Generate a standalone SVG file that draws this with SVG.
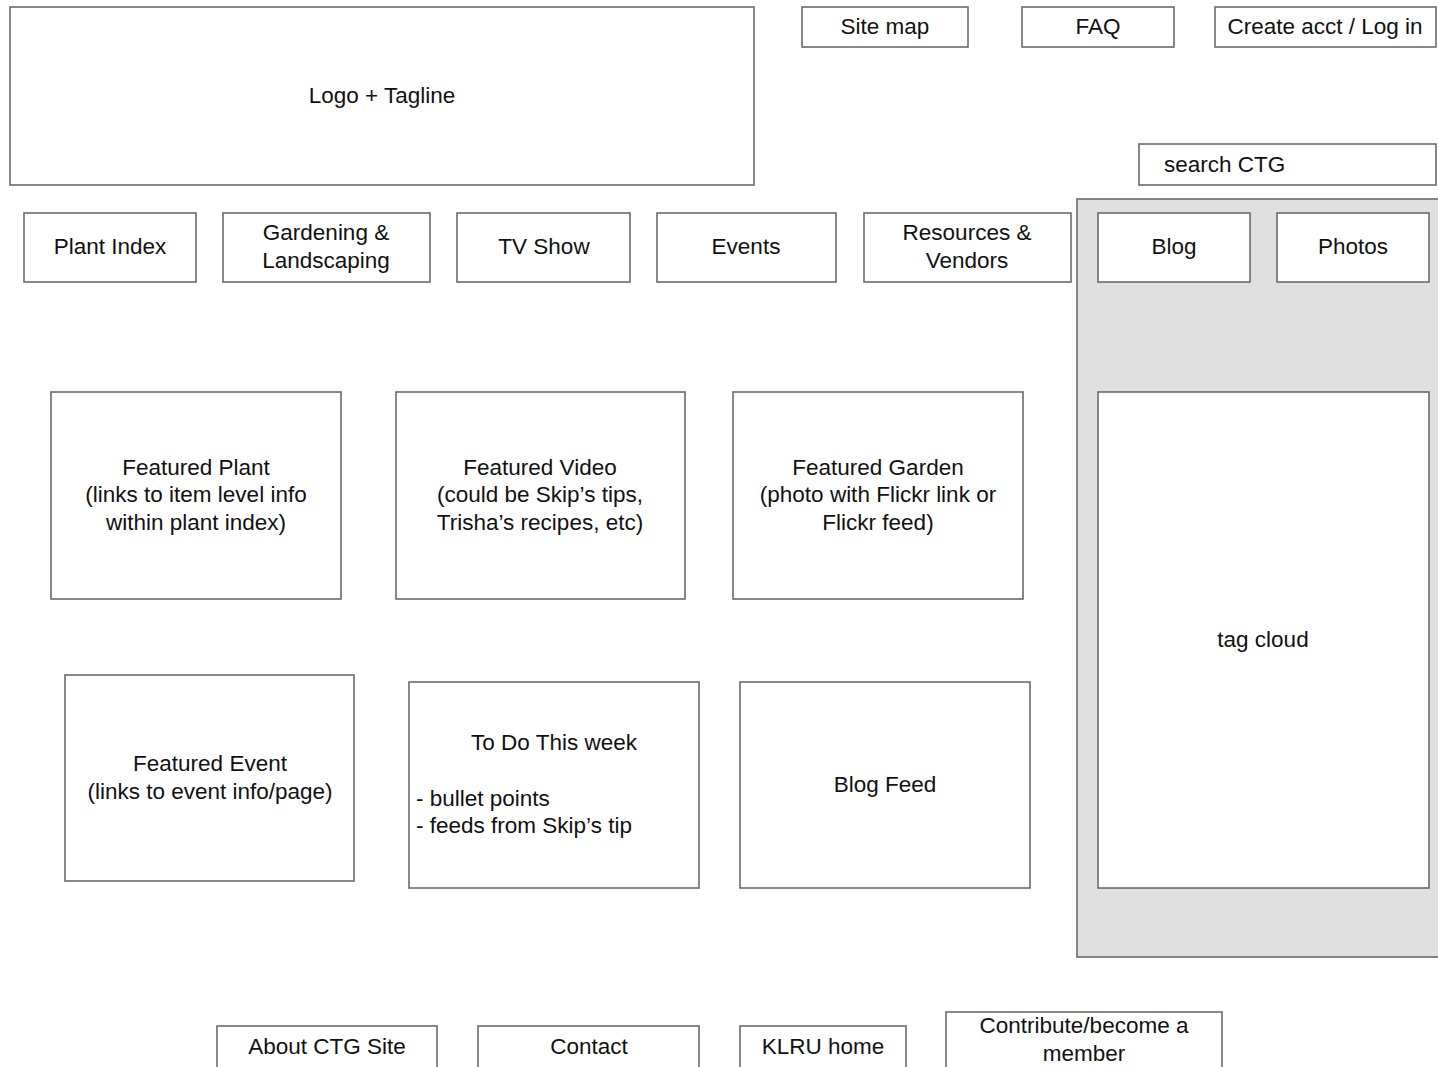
<svg xmlns="http://www.w3.org/2000/svg" width="1438" height="1067" viewBox="0 0 1438 1067">
<style>
rect.b{fill:#fff;stroke:#6b6b6b;stroke-width:1.6}
rect.panel{fill:#e0e0e0;stroke:#6b6b6b;stroke-width:1.6}
text{font-family:"Liberation Sans",Arial,sans-serif;font-size:22.5px;fill:#111;text-anchor:middle}
text.l{text-anchor:start}
</style>
<rect width="1438" height="1067" fill="#fff"/>
<g id="sidebar-panel"><rect class="panel" x="1077" y="199" width="365" height="758"/></g>
<g id="logo"><rect class="b" x="10" y="7" width="744" height="178"/><text x="382" y="103">Logo + Tagline</text></g>
<g id="sitemap"><rect class="b" x="802" y="7" width="166" height="40"/><text x="885" y="34">Site map</text></g>
<g id="faq"><rect class="b" x="1022" y="7" width="152" height="40"/><text x="1098" y="34">FAQ</text></g>
<g id="login"><rect class="b" x="1215" y="7" width="221" height="40"/><text x="1325" y="34">Create acct / Log in</text></g>
<g id="search"><rect class="b" x="1139" y="144" width="297" height="41"/><text class="l" x="1164" y="172">search CTG</text></g>
<g id="plant-index"><rect class="b" x="24" y="213" width="172" height="69"/><text x="110" y="254">Plant Index</text></g>
<g id="gardening"><rect class="b" x="223" y="213" width="207" height="69"/><text x="326" y="240">Gardening &amp;</text><text x="326" y="268">Landscaping</text></g>
<g id="tv-show"><rect class="b" x="457" y="213" width="173" height="69"/><text x="544" y="254">TV Show</text></g>
<g id="events"><rect class="b" x="657" y="213" width="179" height="69"/><text x="746" y="254">Events</text></g>
<g id="resources"><rect class="b" x="864" y="213" width="207" height="69"/><text x="967" y="240">Resources &amp;</text><text x="967" y="268">Vendors</text></g>
<g id="blog"><rect class="b" x="1098" y="213" width="152" height="69"/><text x="1174" y="254">Blog</text></g>
<g id="photos"><rect class="b" x="1277" y="213" width="152" height="69"/><text x="1353" y="254">Photos</text></g>
<g id="featured-plant"><rect class="b" x="51" y="392" width="290" height="207"/><text x="196" y="475">Featured Plant</text><text x="196" y="502">(links to item level info</text><text x="196" y="530">within plant index)</text></g>
<g id="featured-video"><rect class="b" x="396" y="392" width="289" height="207"/><text x="540" y="475">Featured Video</text><text x="540" y="502">(could be Skip’s tips,</text><text x="540" y="530">Trisha’s recipes, etc)</text></g>
<g id="featured-garden"><rect class="b" x="733" y="392" width="290" height="207"/><text x="878" y="475">Featured Garden</text><text x="878" y="502">(photo with Flickr link or</text><text x="878" y="530">Flickr feed)</text></g>
<g id="tag-cloud"><rect class="b" x="1098" y="392" width="331" height="496"/><text x="1263" y="647">tag cloud</text></g>
<g id="featured-event"><rect class="b" x="65" y="675" width="289" height="206"/><text x="210" y="771">Featured Event</text><text x="210" y="799">(links to event info/page)</text></g>
<g id="todo"><rect class="b" x="409" y="682" width="290" height="206"/><text x="554" y="750">To Do This week</text><text class="l" x="416" y="806">- bullet points</text><text class="l" x="416" y="833">- feeds from Skip’s tip</text></g>
<g id="blog-feed"><rect class="b" x="740" y="682" width="290" height="206"/><text x="885" y="792">Blog Feed</text></g>
<g id="about"><rect class="b" x="217" y="1026" width="220" height="45"/><text x="327" y="1054">About CTG Site</text></g>
<g id="contact"><rect class="b" x="478" y="1026" width="221" height="45"/><text x="589" y="1054">Contact</text></g>
<g id="klru"><rect class="b" x="740" y="1026" width="166" height="45"/><text x="823" y="1054">KLRU home</text></g>
<g id="contribute"><rect class="b" x="946" y="1012" width="276" height="59"/><text x="1084" y="1033">Contribute/become a</text><text x="1084" y="1061">member</text></g>
<g id="connectors"></g>
</svg>
